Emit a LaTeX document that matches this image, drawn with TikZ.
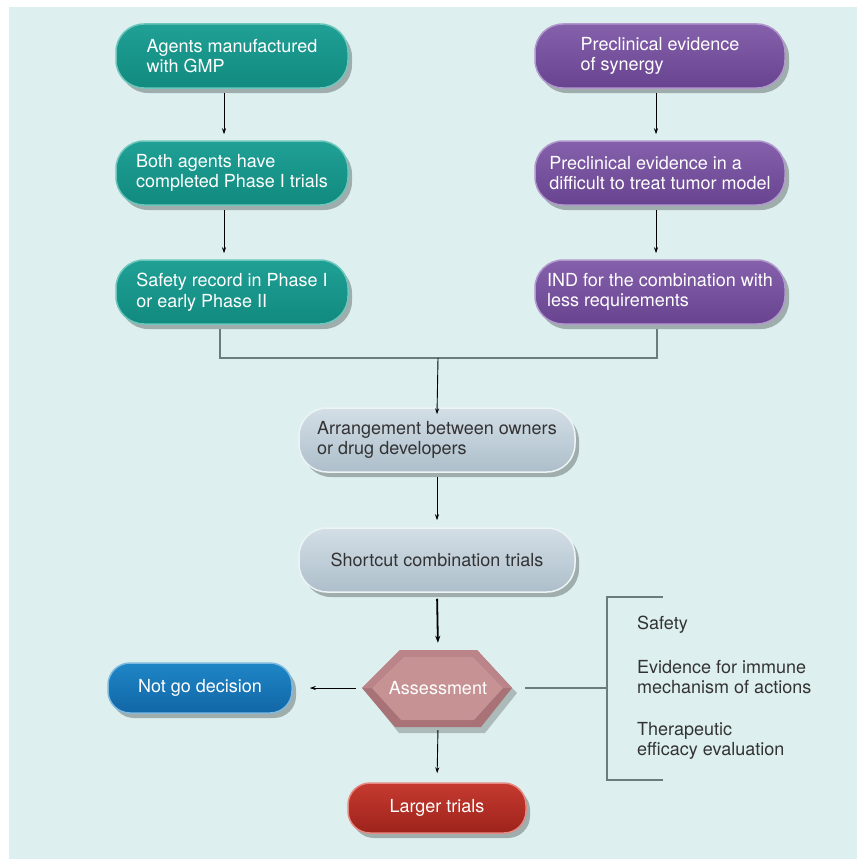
\documentclass[tikz,border=0pt]{standalone}
\usepackage{fontspec}
\setmainfont{TeX Gyre Heros}
\usetikzlibrary{shadows,arrows.meta}
\definecolor{bgc}{HTML}{DDF0EF}
\definecolor{tealA}{HTML}{20A095}
\definecolor{tealB}{HTML}{118A7F}
\definecolor{tealR}{HTML}{6CC6BC}
\definecolor{purA}{HTML}{8560AB}
\definecolor{purB}{HTML}{684490}
\definecolor{purR}{HTML}{B198CC}
\definecolor{grayA}{HTML}{D3DEE6}
\definecolor{grayB}{HTML}{ADBFCB}
\definecolor{grayR}{HTML}{EEF3F6}
\definecolor{bluA}{HTML}{1E86C6}
\definecolor{bluB}{HTML}{1266A6}
\definecolor{bluR}{HTML}{7EB9E0}
\definecolor{redA}{HTML}{C53A30}
\definecolor{redB}{HTML}{9E231B}
\definecolor{redR}{HTML}{E58A82}
\definecolor{hexA}{HTML}{C69294}
\definecolor{hexB}{HTML}{A87276}
\definecolor{hexL}{HTML}{BB8488}
\definecolor{txtg}{HTML}{333333}
\definecolor{linec}{HTML}{6C7C7D}
\tikzset{
  pill/.style={rounded corners=28pt, minimum height=64pt, align=left,
    font=\fontsize{18}{20.5}\selectfont, inner sep=0pt, line width=1.5pt,
    drop shadow={shadow xshift=4pt, shadow yshift=-5pt, opacity=0.28, fill=black}},
  tealbox/.style={pill, text=white, minimum width=232pt, top color=tealA, bottom color=tealB, draw=tealR},
  purbox/.style={pill, text=white, minimum width=250pt, top color=purA, bottom color=purB, draw=purR},
  graybox/.style={pill, text=txtg, minimum width=276pt, top color=grayA, bottom color=grayB, draw=grayR},
  smallpill/.style={pill, rounded corners=22pt, minimum height=50pt, text=white},
  arr/.style={-{Stealth[length=6pt,width=4pt]}, line width=0.9pt, black},
  joinline/.style={line width=1.2pt, linec},
  crit/.style={anchor=west, align=left, text=txtg, inner sep=0pt,
    font=\fontsize{18}{20.5}\selectfont}
}
\begin{document}
\begin{tikzpicture}[x=1pt,y=-1pt]
\useasboundingbox (0,0) rectangle (857,859);
\fill[bgc] (9,7) rectangle (857,859);

% left column
\node[tealbox] (a1) at (232,56) {Agents manufactured\\with GMP};
\node[tealbox] (a2) at (232,173) {Both agents have\\completed Phase I trials};
\node[tealbox] (a3) at (232,292) {Safety record in Phase I\\or early Phase II};
% right column
\node[purbox] (b1) at (660,56) {Preclinical evidence\\of synergy};
\node[purbox] (b2) at (660,173) {Preclinical evidence in a\\difficult to treat tumor model};
\node[purbox] (b3) at (660,292) {IND for the combination with\\less requirements};
% middle
\node[graybox] (c1) at (437,440) {Arrangement between owners\\or drug developers};
\node[graybox] (c2) at (437,560) {Shortcut combination trials};

% hexagon
\fill[black, opacity=0.22] (367,693) -- (404,655) -- (481,655) -- (517,693) -- (485,733) -- (399,733) -- cycle;
\fill[hexB] (362,688) -- (400,650) -- (477,650) -- (512,688) -- (481,727) -- (395,727) -- cycle;
\fill[hexL] (362,688) -- (400,650) -- (477,650) -- (512,688) -- (503,688) -- (473,657) -- (404,657) -- (372,688) -- cycle;
\fill[hexA] (372,688) -- (404,657) -- (473,657) -- (503,688) -- (474,720) -- (401,720) -- cycle;
\node[inner sep=0pt, minimum width=150pt, minimum height=78pt, text=white,
  font=\fontsize{18}{20.5}\selectfont] (as) at (438,688) {Assessment};

\node[smallpill, minimum width=184pt, top color=bluA, bottom color=bluB, draw=bluR] (ng) at (200,688) {Not go decision};
\node[smallpill, minimum width=178pt, top color=redA, bottom color=redB, draw=redR] (lt) at (437,808) {Larger trials};

% coordinates
\coordinate (lx) at (224,0);
\coordinate (rx) at (656,0);
\coordinate (ljx) at (220,0);
\coordinate (rjx) at (657,0);
\coordinate (jm) at (438,358);
\coordinate (bm) at (607,688);
\coordinate (bt) at (607,597);
\coordinate (bte) at (663,597);
\coordinate (bb) at (607,780);
\coordinate (bbe) at (663,780);

% arrows
\draw[arr, shorten <=4pt, shorten >=6pt] (a1.south -| lx) -- (a2.north -| lx);
\draw[arr, shorten <=4pt, shorten >=6pt] (a2.south -| lx) -- (a3.north -| lx);
\draw[arr, shorten <=4pt, shorten >=6pt] (b1.south -| rx) -- (b2.north -| rx);
\draw[arr, shorten <=4pt, shorten >=6pt] (b2.south -| rx) -- (b3.north -| rx);
\draw[joinline, shorten <=4pt, shorten >=4pt] (a3.south -| ljx) |- (jm) -| (b3.south -| rjx);
\draw[arr] (jm) -- ([yshift=-7pt]c1.north);
\draw[arr, shorten <=4pt, shorten >=7pt] (c1.south) -- (c2.north);
\draw[arr, line width=1.8pt, -{Stealth[length=7pt,width=5pt]}, shorten <=6pt, shorten >=6pt] (c2.south) -- (as.north);
\draw[arr, shorten <=7pt, shorten >=17pt] (as.west) -- (ng.east);
\draw[arr, shorten <=3pt, shorten >=9pt] (as.south) -- (lt.north);
\draw[joinline, shorten <=12pt] (as.east) -- (bm);
\draw[joinline] (bte) -- (bt) -- (bb) -- (bbe);

% criteria
\node[crit] (s1) at (637,625) {Safety};
\node[crit] (s2) at (637,677) {Evidence for immune\\mechanism of actions};
\node[crit] (s3) at (637,741) {Therapeutic\\efficacy evaluation};
\end{tikzpicture}
\end{document}
